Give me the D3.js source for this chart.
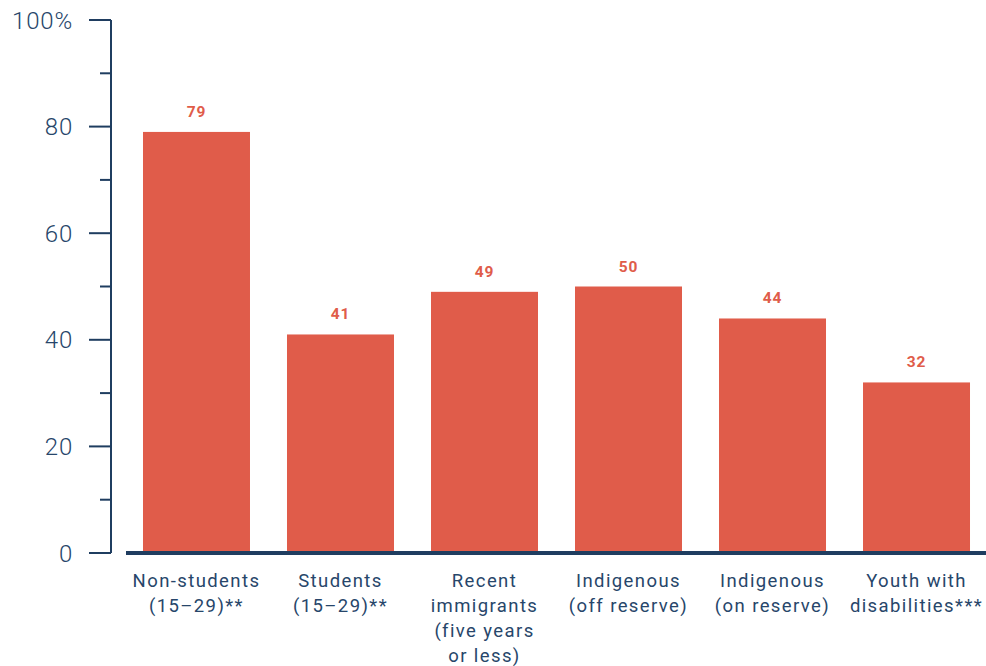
<!DOCTYPE html>
<html>
<head>
<meta charset="utf-8">
<script src="https://cdn.jsdelivr.net/npm/d3@7"></script>
<style>
  body { margin: 0; background: #fff; }
  svg text { font-family: Roboto, "Noto Sans", sans-serif; }
</style>
</head>
<body>
<svg id="chart" width="986" height="666"></svg>
<script>
const categories = [
  ['Non-students', '(15–29)**'],
  ['Students', '(15–29)**'],
  ['Recent', 'immigrants', '(five years', 'or less)'],
  ['Indigenous', '(off reserve)'],
  ['Indigenous', '(on reserve)'],
  ['Youth with', 'disabilities***']
];
const values = [79, 41, 49, 50, 44, 32];
const majorTicks = [0, 20, 40, 60, 80, 100];
const minorTicks = [10, 30, 50, 70, 90];

const navy = '#1f3d60';
const textCol = '#27466a';
const red = '#e05c4a';

const svg = d3.select('#chart');

const y = d3.scaleLinear().domain([0, 100]).range([553, 20]);
const x = d3.scaleBand()
  .domain(d3.range(values.length))
  .range([126, 987])
  .paddingInner(0.257)
  .paddingOuter(0.118);

// y axis
const axisG = svg.append('g').attr('transform', 'translate(111,0)');
axisG.append('line')
  .attr('x1', 0).attr('x2', 0)
  .attr('y1', y(100)).attr('y2', y(0))
  .attr('stroke', navy).attr('stroke-width', 2);
axisG.selectAll('.major').data(majorTicks).enter().append('line')
  .attr('x1', -22).attr('x2', 0)
  .attr('y1', d => y(d)).attr('y2', d => y(d))
  .attr('stroke', navy).attr('stroke-width', 2);
axisG.selectAll('.minor').data(minorTicks).enter().append('line')
  .attr('x1', -11).attr('x2', 0)
  .attr('y1', d => y(d)).attr('y2', d => y(d))
  .attr('stroke', navy).attr('stroke-width', 2);
axisG.selectAll('.lbl').data(majorTicks).enter().append('text')
  .attr('x', -38)
  .attr('y', d => y(d))
  .attr('dy', '0.36em')
  .attr('text-anchor', 'end')
  .attr('font-size', 24)
  .attr('font-weight', 300)
  .attr('letter-spacing', 0.8)
  .attr('fill', textCol)
  .text(d => d === 100 ? '100%' : d);

// bars
svg.selectAll('.bar').data(values).enter().append('rect')
  .attr('x', (d, i) => x(i))
  .attr('width', x.bandwidth())
  .attr('y', d => y(d))
  .attr('height', d => y(0) - y(d))
  .attr('fill', red);

// value labels
svg.selectAll('.val').data(values).enter().append('text')
  .attr('x', (d, i) => x(i) + x.bandwidth() / 2)
  .attr('y', d => y(d) - 15)
  .attr('text-anchor', 'middle')
  .attr('font-size', 15.5)
  .attr('font-weight', 700)
  .attr('letter-spacing', 0.8)
  .attr('fill', red)
  .text(d => d);

// baseline
svg.append('line')
  .attr('x1', 126).attr('x2', 986)
  .attr('y1', y(0)).attr('y2', y(0))
  .attr('stroke', navy).attr('stroke-width', 4);

// category labels
categories.forEach((lines, i) => {
  const cx = x(i) + x.bandwidth() / 2;
  const t = svg.append('text')
    .attr('text-anchor', 'middle')
    .attr('font-size', 18.5)
    .attr('letter-spacing', 1.4)
    .attr('fill', textCol);
  lines.forEach((s, j) => {
    t.append('tspan')
      .attr('x', cx)
      .attr('y', 587 + j * 25)
      .text(s);
  });
});
</script>
</body>
</html>
